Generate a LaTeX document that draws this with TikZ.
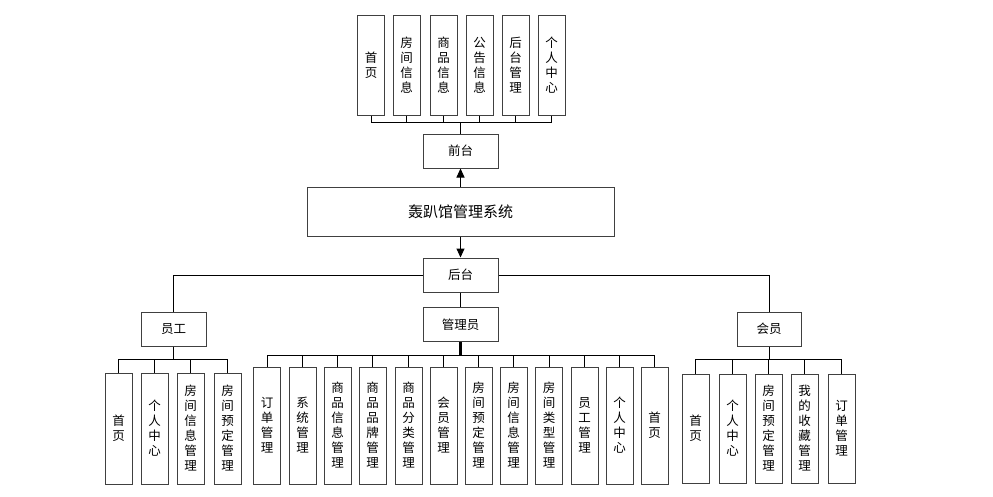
\documentclass[tikz,border=0pt]{standalone}
\usepackage{fontspec}
\newfontfamily\cjk{Noto Sans CJK SC}
\usepackage{tikz}
\usetikzlibrary{arrows.meta,positioning}
\definecolor{edge}{HTML}{404040}
\definecolor{thin}{HTML}{5A5A5A}

\begin{document}
\begin{tikzpicture}[x=1pt,y=-1pt,font=\cjk\fontsize{12.5}{15}\selectfont,
  leaf/.style={draw=edge,line width=1pt,minimum width=27pt,inner sep=0pt,align=center},
  mid/.style={draw=edge,line width=1pt,minimum width=75pt,minimum height=34pt,inner sep=0pt},
  link/.style={line width=1pt},
  tip/.style={-{Triangle[width=8pt,length=9pt]}}]
\useasboundingbox (0,0) rectangle (993,496);
% front end
\node[leaf,minimum height=100pt] (f1) at (371,65) {首\\页};
\node[leaf,minimum height=100pt] (f2) at (406.5,65) {房\\间\\信\\息};
\node[leaf,minimum height=100pt] (f3) at (443.5,65) {商\\品\\信\\息};
\node[leaf,minimum height=100pt] (f4) at (479.5,65) {公\\告\\信\\息};
\node[leaf,minimum height=100pt] (f5) at (515.5,65) {后\\台\\管\\理};
\node[leaf,minimum height=100pt] (f6) at (551.5,65) {个\\人\\中\\心};
\node[mid] (front) at (460.5,151) {前台};
\coordinate (fbus) at (460.5,122);
\draw[link] (front.north) -- (fbus);
\draw[link] (f1.south) |- (fbus);
\draw[link] (f2.south) |- (fbus);
\draw[link] (f3.south) |- (fbus);
\draw[link] (f4.south) |- (fbus);
\draw[link] (f5.south) |- (fbus);
\draw[link] (f6.south) |- (fbus);
% system
\node[draw=edge,line width=1pt,minimum width=307pt,minimum height=49pt,font=\cjk\fontsize{15}{17}\selectfont] (sys) at (460.5,211.5) {轰趴馆管理系统};
\node[mid] (back) at (460.5,275) {后台};
\draw[link,tip] (sys.north) -- (front.south);
\draw[link,tip] (sys.south) -- (back.north);
% back end roles
\node[mid,minimum width=65pt] (staff) at (173.5,329) {员工};
\node[mid] (admin) at (460.5,324.5) {管理员};
\node[mid,minimum width=64pt] (member) at (769,329) {会员};
\draw[link] (back.west) -| (staff.north);
\draw[link] (back.east) -| (member.north);
\draw[thin,line width=0.8pt] (back.south) -- (admin.north);
% staff
\node[leaf,minimum height=111pt] (s1) at (118.5,428.5) {首\\页};
\node[leaf,minimum height=111pt] (s2) at (154.5,428.5) {个\\人\\中\\心};
\node[leaf,minimum height=111pt] (s3) at (190.5,428.5) {房\\间\\信\\息\\管\\理};
\node[leaf,minimum height=111pt] (s4) at (227.5,428.5) {房\\间\\预\\定\\管\\理};
\coordinate (sbus) at (173.5,359);
\draw[link] (staff.south) -- (sbus);
\draw[link] (s1.north) |- (sbus);
\draw[link] (s2.north) |- (sbus);
\draw[link] (s3.north) |- (sbus);
\draw[link] (s4.north) |- (sbus);
% admin
\node[leaf,minimum height=117pt] (a1) at (267,425.5) {订\\单\\管\\理};
\node[leaf,minimum height=117pt] (a2) at (302.5,425.5) {系\\统\\管\\理};
\node[leaf,minimum height=117pt] (a3) at (337.5,425.5) {商\\品\\信\\息\\管\\理};
\node[leaf,minimum height=117pt] (a4) at (372.5,425.5) {商\\品\\品\\牌\\管\\理};
\node[leaf,minimum height=117pt] (a5) at (408.5,425.5) {商\\品\\分\\类\\管\\理};
\node[leaf,minimum height=117pt] (a6) at (443.5,425.5) {会\\员\\管\\理};
\node[leaf,minimum height=117pt] (a7) at (478.5,425.5) {房\\间\\预\\定\\管\\理};
\node[leaf,minimum height=117pt] (a8) at (513.5,425.5) {房\\间\\信\\息\\管\\理};
\node[leaf,minimum height=117pt] (a9) at (549,425.5) {房\\间\\类\\型\\管\\理};
\node[leaf,minimum height=117pt] (a10) at (584.5,425.5) {员\\工\\管\\理};
\node[leaf,minimum height=117pt] (a11) at (619.5,425.5) {个\\人\\中\\心};
\node[leaf,minimum height=117pt] (a12) at (654.5,425.5) {首\\页};
\coordinate (abus) at (460.5,355);
\draw[line width=2.5pt] (admin.south) -- (abus);
\draw[link] (a1.north) |- (abus);
\draw[link] (a2.north) |- (abus);
\draw[link] (a3.north) |- (abus);
\draw[link] (a4.north) |- (abus);
\draw[link] (a5.north) |- (abus);
\draw[link] (a6.north) |- (abus);
\draw[link] (a7.north) |- (abus);
\draw[link] (a8.north) |- (abus);
\draw[link] (a9.north) |- (abus);
\draw[link] (a10.north) |- (abus);
\draw[link] (a11.north) |- (abus);
\draw[link] (a12.north) |- (abus);
% member
\node[leaf,minimum height=109pt] (m1) at (695.5,428.5) {首\\页};
\node[leaf,minimum height=109pt] (m2) at (732.5,428.5) {个\\人\\中\\心};
\node[leaf,minimum height=109pt] (m3) at (768.5,428.5) {房\\间\\预\\定\\管\\理};
\node[leaf,minimum height=109pt] (m4) at (804.5,428.5) {我\\的\\收\\藏\\管\\理};
\node[leaf,minimum height=109pt] (m5) at (841.5,428.5) {订\\单\\管\\理};
\coordinate (mbus) at (769,359);
\draw[link] (member.south) -- (mbus);
\draw[link] (m1.north) |- (mbus);
\draw[link] (m2.north) |- (mbus);
\draw[link] (m3.north) |- (mbus);
\draw[link] (m4.north) |- (mbus);
\draw[link] (m5.north) |- (mbus);
\end{tikzpicture}
\end{document}
